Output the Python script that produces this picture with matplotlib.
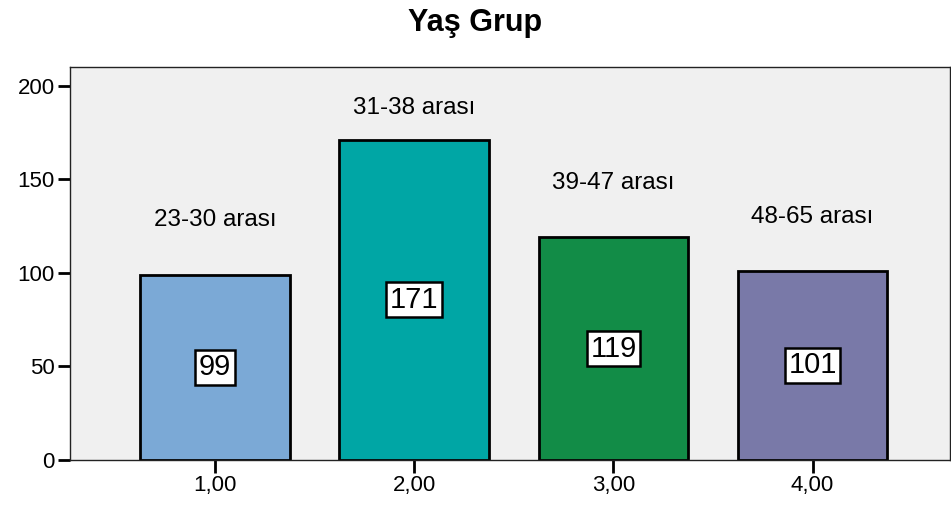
import matplotlib.pyplot as plt

# Yas grubu frekanslari
gruplar = [1, 2, 3, 4]
frekans = [99, 171, 119, 101]
etiketler = ["23-30 arası", "31-38 arası", "39-47 arası", "48-65 arası"]
tick_yazi = ["1,00", "2,00", "3,00", "4,00"]
renkler = ["#7BA9D6", "#00A6A5", "#128C47", "#7979A8"]

plt.rcParams['font.family'] = ['Liberation Sans', 'DejaVu Sans']

fig = plt.figure(figsize=(9.51, 5.16), dpi=100)
ax = fig.add_axes([70 / 951, 56 / 516, 880 / 951, 393 / 516])
ax.set_facecolor("#F0F0F0")

ax.bar(gruplar, frekans, width=0.75, color=renkler, edgecolor="black", linewidth=2, zorder=2)

for x, v, et in zip(gruplar, frekans, etiketler):
    # deger kutusu cubugun ortasinda
    ax.text(x, v / 2, str(v), ha="center", va="center", fontsize=21, zorder=3,
            bbox=dict(facecolor="white", edgecolor="black", linewidth=1.8, pad=2.5))
    # grup etiketi cubugun ustunde
    ax.text(x, min(v + 29, 188), et, ha="center", va="center", fontsize=17.5)

ax.set_xlim(0.272, 4.69)
ax.set_ylim(0, 210)
ax.set_yticks([0, 50, 100, 150, 200])
ax.set_xticks(gruplar)
ax.set_xticklabels(tick_yazi)
ax.tick_params(axis="both", direction="out", length=9, width=2, labelsize=16, pad=2)

for s in ax.spines.values():
    s.set_linewidth(1)
    s.set_color("#222222")

fig.text(0.5, 1 - 23 / 516, "Yaş Grup", ha="center", va="center", fontsize=22,
         fontweight="bold")

fig.savefig("out.png", dpi=100)
